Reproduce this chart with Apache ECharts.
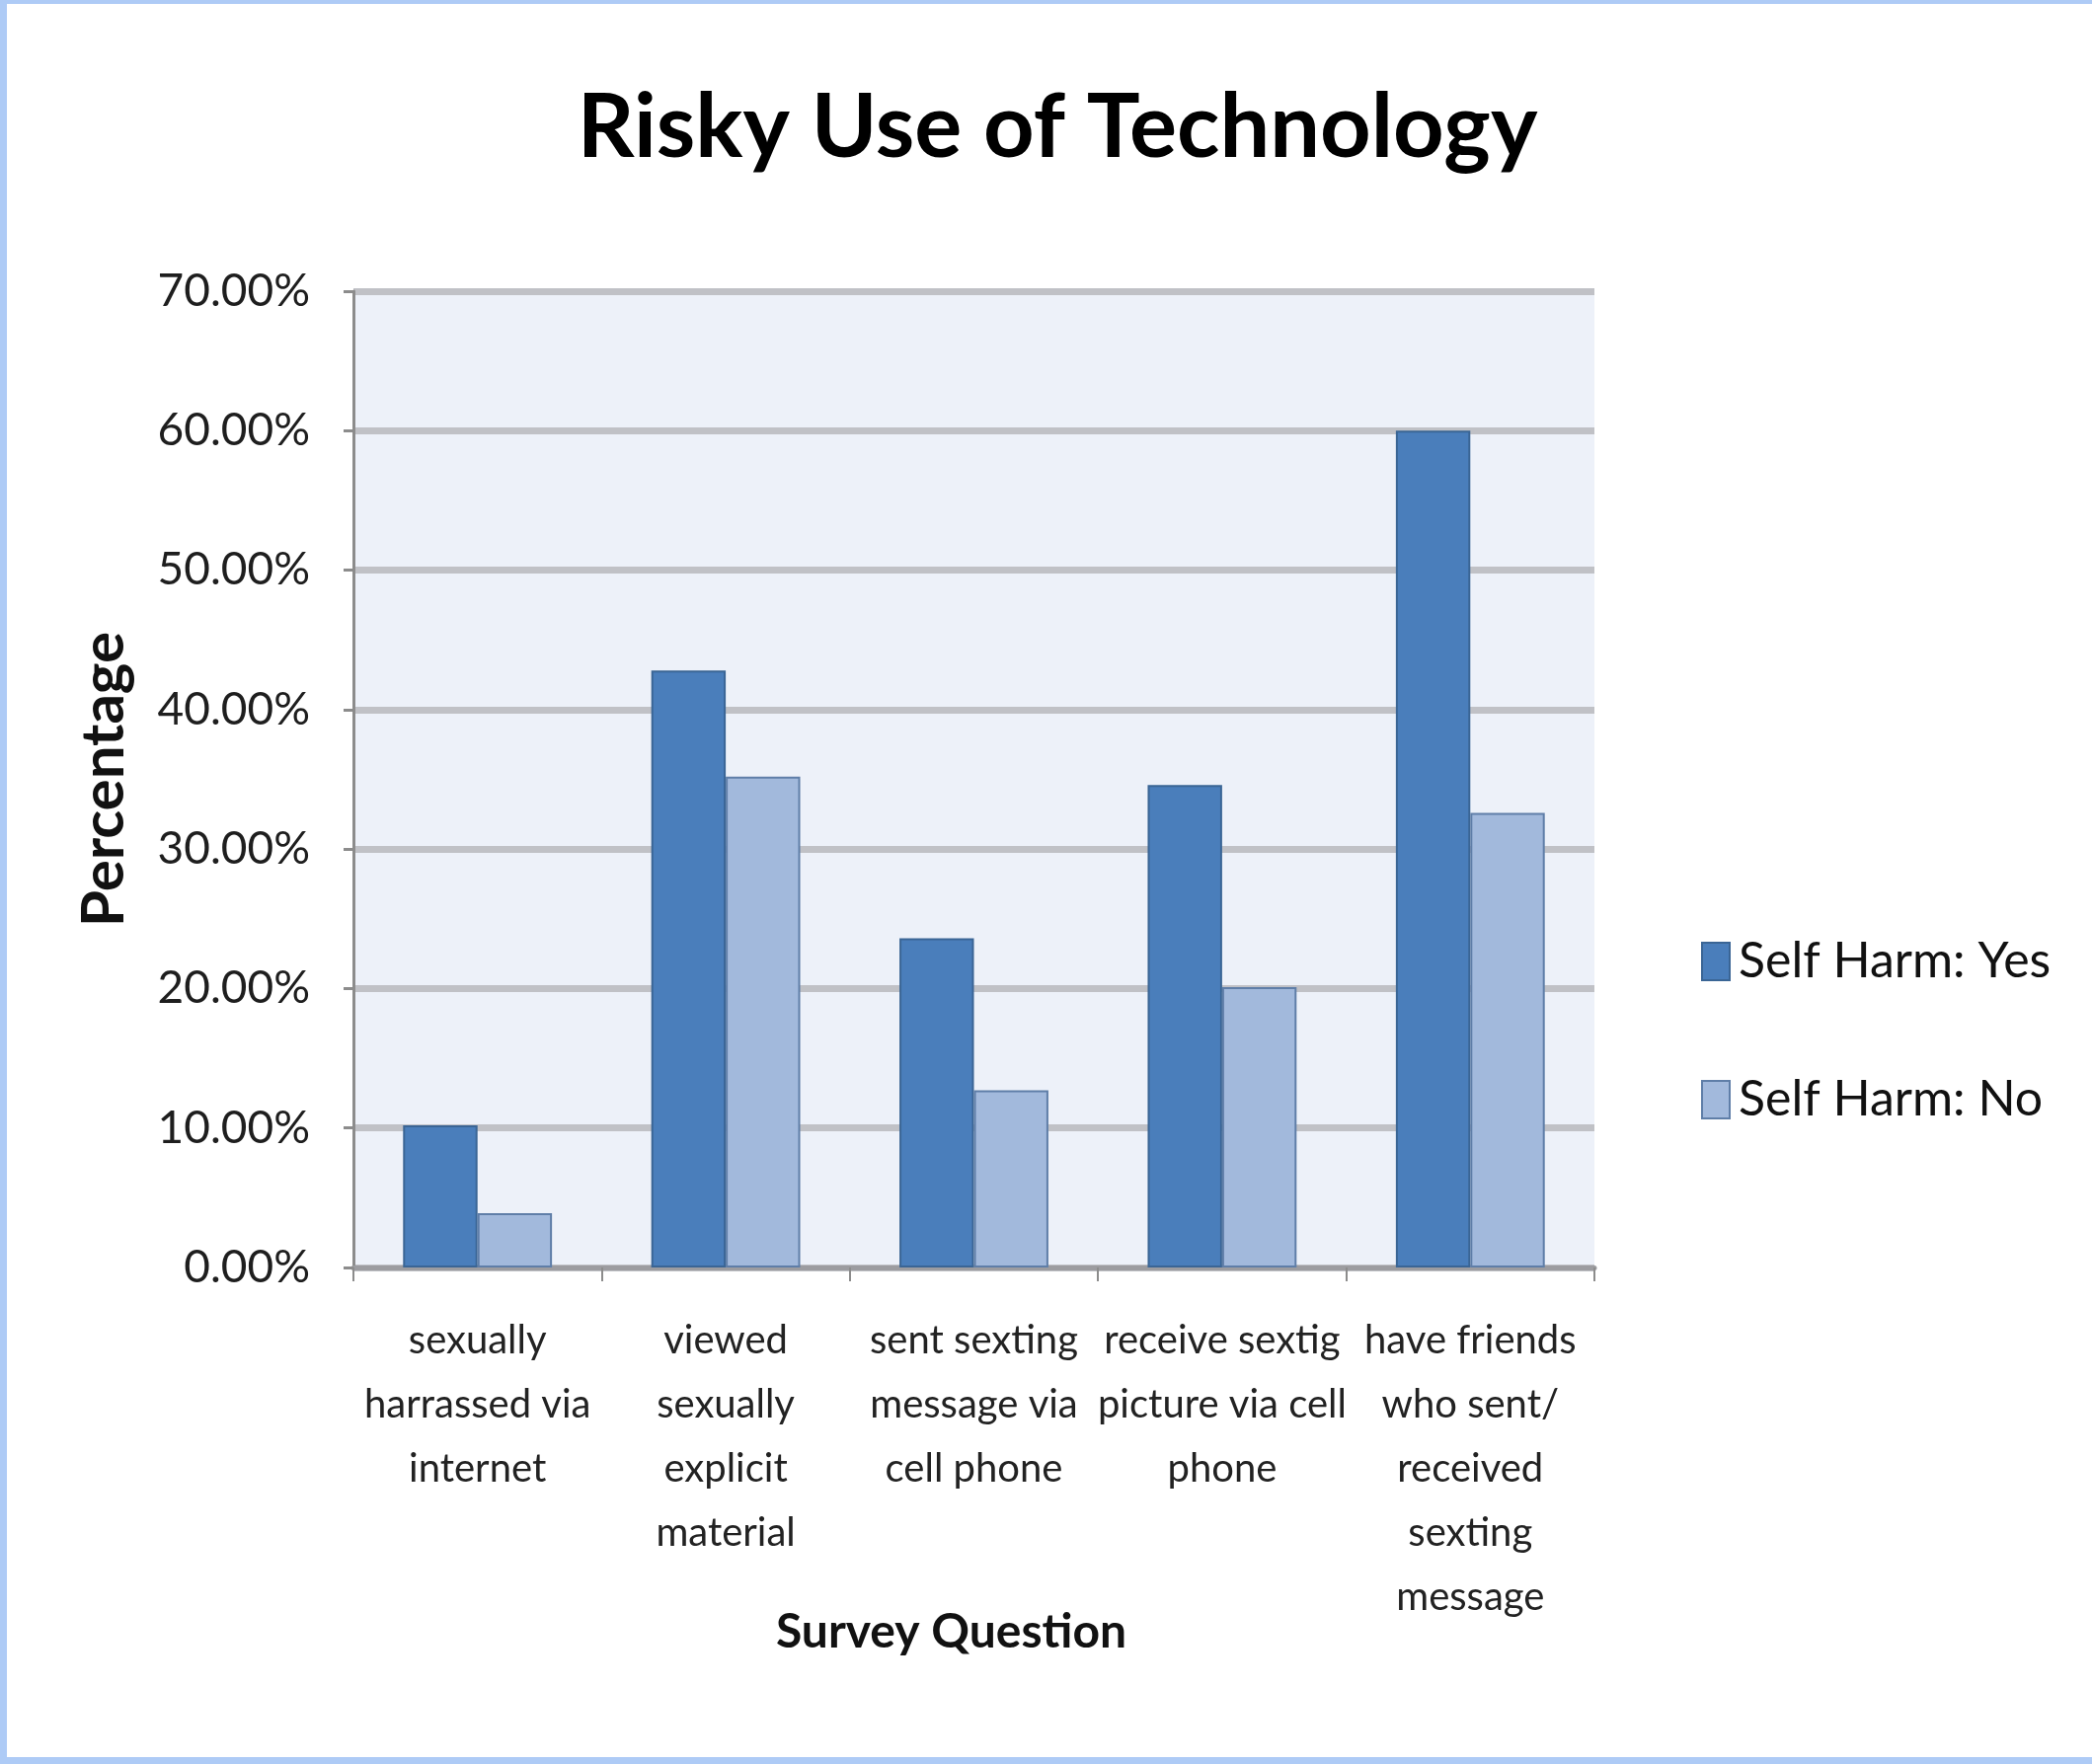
<!DOCTYPE html>
<html>
<head>
<meta charset="utf-8">
<style>
  html, body { margin: 0; padding: 0; background: #ffffff; }
  #chart { width: 2119px; height: 1787px; }
</style>
<script src="https://cdn.jsdelivr.net/npm/echarts@6/dist/echarts.min.js"></script>
</head>
<body>
<div id="chart"></div>
<script>
// ---- data ----
var categories = [
  "sexually\nharrassed via\ninternet",
  "viewed\nsexually\nexplicit\nmaterial",
  "sent sexting\nmessage via\ncell phone",
  "receive sextig\npicture via cell\nphone",
  "have friends\nwho sent/\nreceived\nsexting\nmessage"
];
var seriesNames = ["Self Harm: Yes", "Self Harm: No"];
var selfHarmYes = [10.2, 42.8, 23.6, 34.6, 60.0];
var selfHarmNo  = [3.9, 35.2, 12.7, 20.1, 32.6];
var yMin = 0, yMax = 70, yInterval = 10;

var FONT = "Lato, 'Open Sans', 'Noto Sans', sans-serif";

var chart = echarts.init(document.getElementById('chart'), null, {renderer: 'canvas'});
chart.setOption({
  backgroundColor: '#ffffff',
  animation: false,
  title: {
    text: 'Risky Use of Technology',
    left: 1066, top: 80, textAlign: 'center',
    textStyle: { fontFamily: FONT, fontWeight: 'bold', fontSize: 90, color: '#000000' }
  },
  legend: {
    orient: 'vertical',
    left: 1718, top: 944,
    itemWidth: 28, itemHeight: 38,
    itemGap: 90,
    icon: 'rect',
    textStyle: { fontFamily: FONT, fontSize: 50, color: '#111111', padding: [0, 0, 0, 4] },
    data: seriesNames
  },
  graphic: [
    { type: 'rect', shape: { x: 0, y: 0, width: 7, height: 1787 }, style: { fill: '#aecbf6' }, silent: true },
    { type: 'rect', shape: { x: 0, y: 0, width: 2119, height: 4 }, style: { fill: '#aecbf6' }, silent: true },
    { type: 'rect', shape: { x: 0, y: 1780, width: 2119, height: 7 }, style: { fill: '#aecbf6' }, silent: true }
  ],
  grid: {
    left: 358, right: 504, top: 295, bottom: 503,
    show: true, backgroundColor: '#edf1f9', borderWidth: 0
  },
  xAxis: {
    type: 'category',
    data: categories,
    name: 'Survey Question',
    nameLocation: 'middle',
    nameGap: 346,
    nameMoveOverlap: false,
    nameTextStyle: { fontFamily: FONT, fontWeight: 'bold', fontSize: 48, color: '#111111', padding: [0, 46, 0, 0] },
    axisLine: { lineStyle: { color: '#9c9ca0', width: 5 } },
    axisTick: { show: true, alignWithLabel: false, length: 14, lineStyle: { color: '#8c8c8c', width: 2 } },
    axisLabel: {
      interval: 0, margin: 42,
      fontFamily: FONT, fontSize: 40, lineHeight: 65, color: '#222222', align: 'center'
    },
    splitLine: { show: false }
  },
  yAxis: {
    type: 'value',
    min: yMin, max: yMax, interval: yInterval,
    name: 'Percentage',
    nameLocation: 'middle',
    nameGap: 222,
    nameMoveOverlap: false,
    nameRotate: 90,
    nameTextStyle: { fontFamily: FONT, fontWeight: 'bold', fontSize: 60, color: '#111111' },
    axisLine: { show: true, lineStyle: { color: '#8c8c8c', width: 3 } },
    axisTick: { show: true, length: 10, lineStyle: { color: '#8c8c8c', width: 3 } },
    axisLabel: {
      margin: 44,
      fontFamily: FONT, fontSize: 46, color: '#1e1e1e',
      formatter: function (v) { return v.toFixed(2) + '%'; }
    },
    splitLine: { show: true, lineStyle: { color: '#c0c1c6', width: 7 } }
  },
  series: [
    {
      name: seriesNames[0], type: 'bar', data: selfHarmYes,
      barGap: '0%', barCategoryGap: '40%',
      itemStyle: { color: '#4a7ebb', borderColor: '#3a6595', borderWidth: 2 }
    },
    {
      name: seriesNames[1], type: 'bar', data: selfHarmNo,
      barGap: '0%', barCategoryGap: '40%',
      itemStyle: { color: '#a2b9dc', borderColor: '#5f7ea8', borderWidth: 2 }
    }
  ]
});
</script>
</body>
</html>
